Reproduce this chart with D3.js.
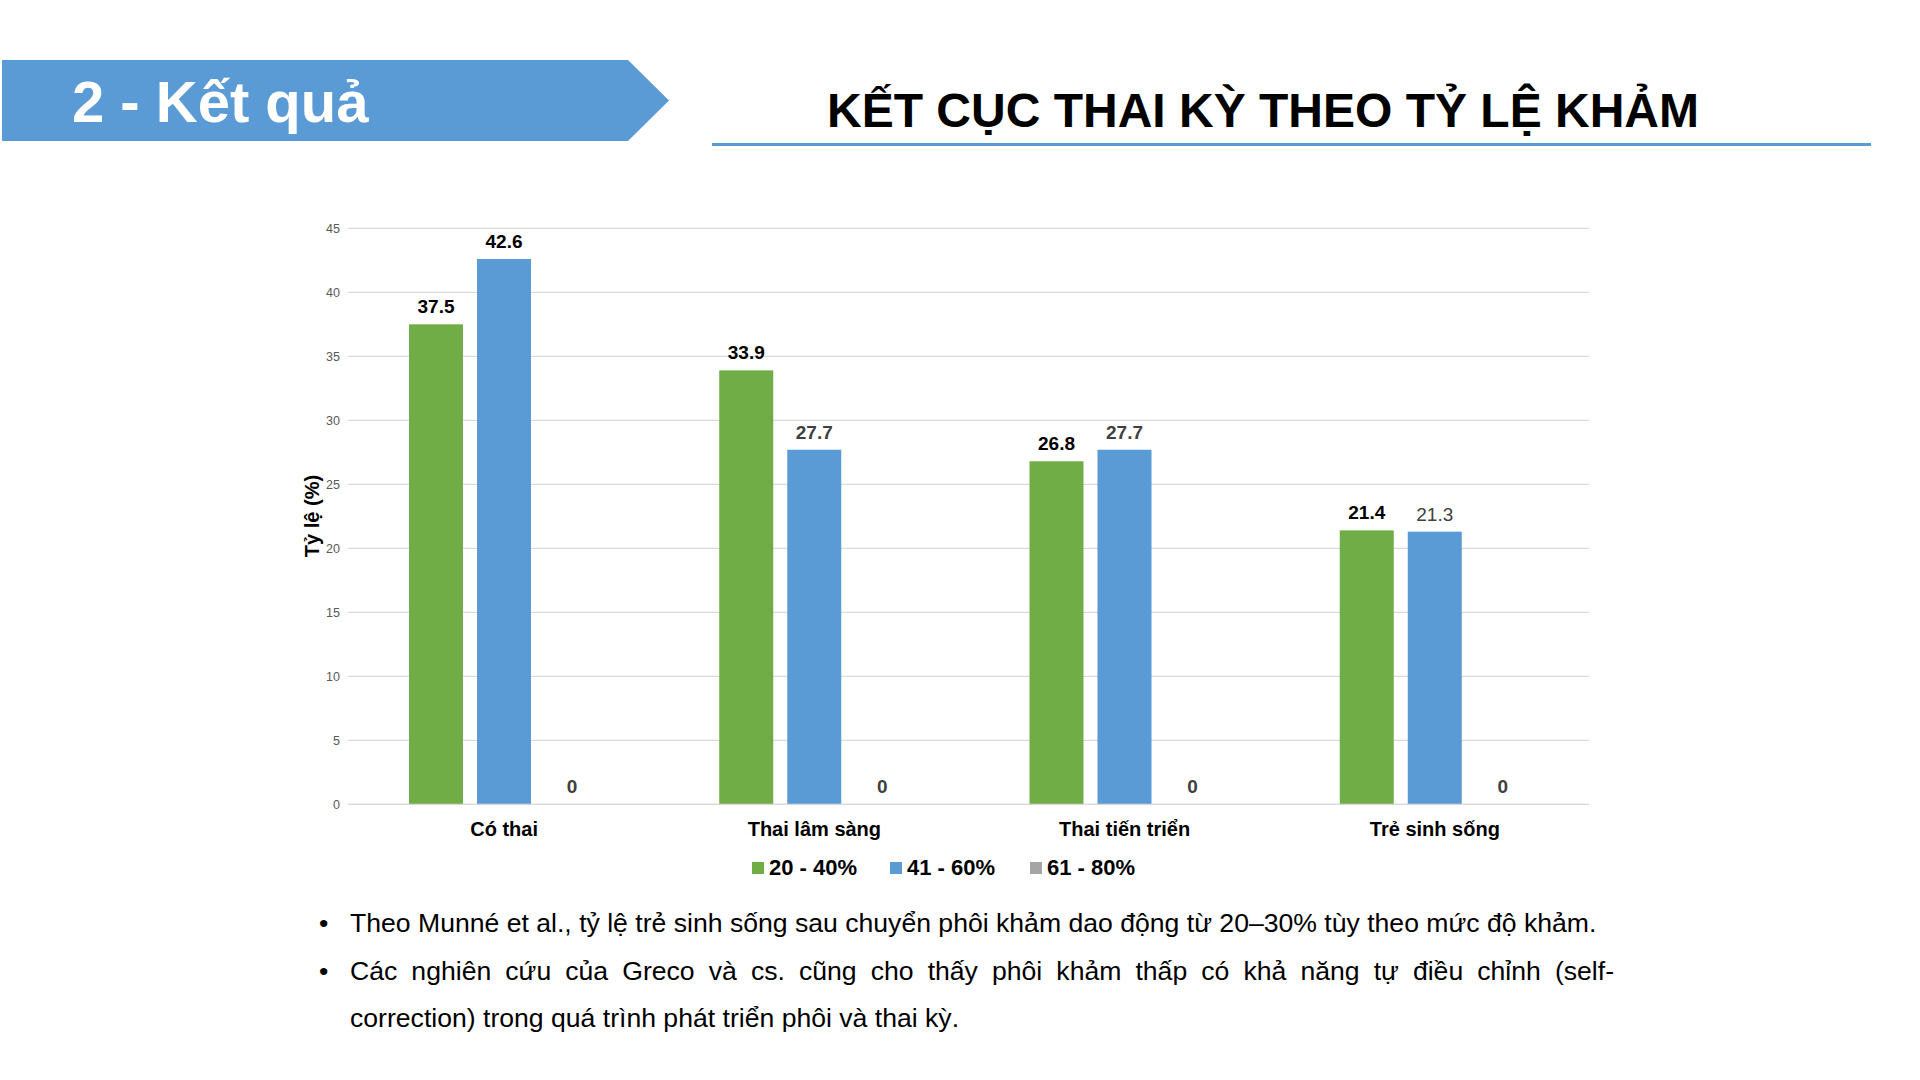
<!DOCTYPE html>
<html>
<head>
<meta charset="utf-8">
<script src="https://cdn.jsdelivr.net/npm/d3@7"></script>
<style>
  body { margin: 0; background: #fff; font-family: Arial, "Liberation Sans", sans-serif; }
  #slide { position: relative; width: 1920px; height: 1080px; overflow: hidden; }
  .bullet-line { position: absolute; font-size: 26.6px; line-height: 47px; color: #000; white-space: nowrap; }
  .bullet-dot { position: absolute; font-size: 26.6px; line-height: 47px; color: #000; }
</style>
</head>
<body>
<div id="slide"></div>
<script>
// --- data ---
const categories = ["Có thai", "Thai lâm sàng", "Thai tiến triển", "Trẻ sinh sống"];
const seriesNames = ["20 - 40%", "41 - 60%", "61 - 80%"];
const values2040 = [37.5, 33.9, 26.8, 21.4];
const values4160 = [42.6, 27.7, 27.7, 21.3];
const values6180 = [0, 0, 0, 0];
const yTicks = [0, 5, 10, 15, 20, 25, 30, 35, 40, 45];

const colors = ["#70AD47", "#5B9BD5", "#A5A5A5"];
const seriesValues = [values2040, values4160, values6180];

const W = 1920, H = 1080;
const slide = d3.select("#slide");
const svg = slide.append("svg").attr("width", W).attr("height", H);

// --- header banner ---
svg.append("polygon")
    .attr("points", "2,60 628,60 669,100.5 628,141 2,141")
    .attr("fill", "#5B9BD5");
svg.append("text")
    .attr("x", 72).attr("y", 122)
    .attr("font-size", 58).attr("font-weight", "bold")
    .attr("fill", "#fff")
    .text("2 - Kết quả");

// --- title ---
svg.append("text")
    .attr("x", 1263).attr("y", 127)
    .attr("text-anchor", "middle")
    .attr("font-size", 48).attr("font-weight", "bold")
    .attr("fill", "#000")
    .text("KẾT CỤC THAI KỲ THEO TỶ LỆ KHẢM");
svg.append("line")
    .attr("x1", 712).attr("x2", 1871)
    .attr("y1", 144.5).attr("y2", 144.5)
    .attr("stroke", "#5B9BD5").attr("stroke-width", 3);

// --- chart ---
const plot = { left: 348, right: 1589, top: 228.3, bottom: 804.3 };

const y = d3.scaleLinear().domain([0, 45]).range([plot.bottom, plot.top]);
const x0 = d3.scaleBand().domain(categories).range([plot.left, plot.right]).padding(0);
const x1 = d3.scaleBand().domain(d3.range(seriesNames.length))
    .range([61, 251]).paddingInner(14 / 68).paddingOuter(0);

const g = svg.append("g");

// gridlines
g.selectAll("line.grid")
    .data(yTicks)
    .enter().append("line")
    .attr("class", "grid")
    .attr("x1", plot.left).attr("x2", plot.right)
    .attr("y1", d => y(d)).attr("y2", d => y(d))
    .attr("stroke", "#D9D9D9").attr("stroke-width", 1.3);

// y axis labels
const yAxis = d3.axisLeft(y).tickValues(yTicks).tickSize(0).tickPadding(0);
const yAxisG = g.append("g")
    .attr("transform", `translate(${plot.left - 8},0)`)
    .call(yAxis);
yAxisG.select(".domain").remove();
yAxisG.selectAll("text")
    .attr("font-family", "Arial, 'Liberation Sans', sans-serif")
    .attr("font-size", 12.5)
    .attr("fill", "#595959");

// y title
svg.append("text")
    .attr("transform", "translate(319,516) rotate(-90)")
    .attr("text-anchor", "middle")
    .attr("font-size", 20).attr("font-weight", "bold")
    .attr("fill", "#000")
    .text("Tỷ lệ (%)");

// bars
const barData = [];
categories.forEach((c, i) => {
    seriesValues.forEach((vals, s) => {
        barData.push({ cat: c, s: s, v: vals[i] });
    });
});

g.selectAll("rect.bar")
    .data(barData.filter(d => d.v > 0))
    .enter().append("rect")
    .attr("class", "bar")
    .attr("x", d => x0(d.cat) + x1(d.s))
    .attr("width", x1.bandwidth())
    .attr("y", d => y(d.v))
    .attr("height", d => y(0) - y(d.v))
    .attr("fill", d => colors[d.s]);

// value labels
function labelColor(d) {
    if (d.s === 0) return "#000";
    if (d.s === 1 && d.cat === categories[0]) return "#000";
    return "#404040";
}
g.selectAll("text.val")
    .data(barData)
    .enter().append("text")
    .attr("class", "val")
    .attr("x", d => x0(d.cat) + x1(d.s) + x1.bandwidth() / 2)
    .attr("y", d => y(d.v) - 11)
    .attr("text-anchor", "middle")
    .attr("font-size", 19)
    .attr("font-weight", d => (d.s === 1 && d.cat === categories[3]) ? "normal" : "bold")
    .attr("fill", labelColor)
    .text(d => d.v);

// x axis line
g.append("line")
    .attr("x1", plot.left).attr("x2", plot.right)
    .attr("y1", y(0)).attr("y2", y(0))
    .attr("stroke", "#D9D9D9").attr("stroke-width", 1.3);

// x labels
g.selectAll("text.cat")
    .data(categories)
    .enter().append("text")
    .attr("class", "cat")
    .attr("x", d => x0(d) + x0.bandwidth() / 2 + 1)
    .attr("y", 836)
    .attr("text-anchor", "middle")
    .attr("font-size", 20).attr("font-weight", "bold")
    .attr("fill", "#000")
    .text(d => d);

// legend
const legendX = [752, 890, 1030];
const legend = svg.append("g");
const items = legend.selectAll("g.item")
    .data(seriesNames)
    .enter().append("g")
    .attr("class", "item")
    .attr("transform", (d, i) => `translate(${legendX[i]},0)`);
items.append("rect")
    .attr("x", 0).attr("y", 862)
    .attr("width", 12).attr("height", 12)
    .attr("fill", (d, i) => colors[i]);
items.append("text")
    .attr("x", 17).attr("y", 874.5)
    .attr("font-size", 22).attr("font-weight", "bold")
    .attr("fill", "#000")
    .text(d => d);

// --- bullet text ---
const bulletLines = [
    { top: 900, text: "Theo Munné et al., tỷ lệ trẻ sinh sống sau chuyển phôi khảm dao động từ 20–30% tùy theo mức độ khảm.", dot: true, justify: false },
    { top: 948, text: "Các nghiên cứu của Greco và cs. cũng cho thấy phôi khảm thấp có khả năng tự điều chỉnh (self-", dot: true, justify: true },
    { top: 995, text: "correction) trong quá trình phát triển phôi và thai kỳ.", dot: false, justify: false }
];
bulletLines.forEach(b => {
    if (b.dot) {
        slide.append("div")
            .attr("class", "bullet-dot")
            .style("left", "319px")
            .style("top", b.top + "px")
            .text("•");
    }
    const line = slide.append("div")
        .attr("class", "bullet-line")
        .style("left", "350px")
        .style("top", b.top + "px")
        .text(b.text);
    if (b.justify) {
        line.style("width", "1264px")
            .style("white-space", "normal")
            .style("text-align", "justify")
            .style("text-align-last", "justify");
    }
});
</script>
</body>
</html>
